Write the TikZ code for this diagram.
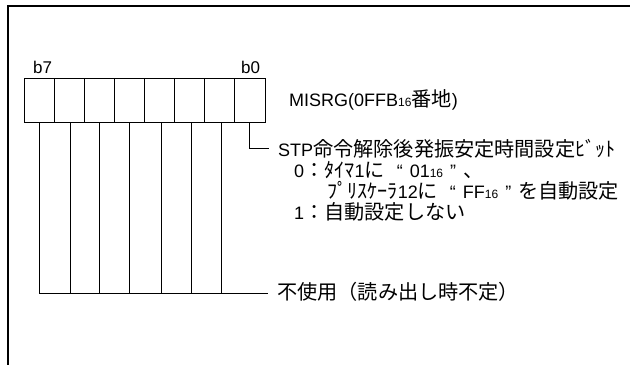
\documentclass[tikz,border=0pt]{standalone}
\usepackage{fontspec}
\setmainfont{Liberation Sans}
\newfontfamily\jp{Noto Sans CJK JP}[Scale=1.12]
\newcommand{\subn}[1]{{\fontsize{12}{12}\selectfont #1}}
\newcommand{\qopen}{\hspace{12pt}“\hspace{7pt}}
\newcommand{\qclose}{\hspace{7pt}”\hspace{7pt}}
\begin{document}
\begin{tikzpicture}[x=1pt,y=-1pt,
  frame/.style={line width=2pt},
  reg/.style={line width=0.9pt},
  cell/.style={draw, line width=0.9pt, minimum width=30.125pt, minimum height=44pt, inner sep=0pt, outer sep=0pt},
  lbl/.style={anchor=base west, inner sep=0pt, font=\fontsize{18}{21}\selectfont},
  bitlbl/.style={anchor=base west, inner sep=0pt, font=\fontsize{17}{20}\selectfont}]
\useasboundingbox (0,0) rectangle (630,365);
% frame
\coordinate (ftr) at (630,6);
\coordinate (ftl) at (8,6);
\coordinate (fbl) at (8,365);
\draw[frame] (ftr) -- (ftl) -- (fbl);
% register cells: c7 (left) ... c0 (right)
\foreach \i in {0,...,7}
  \node[cell] (c\i) at ({265-30.125*(\i+0.5)},100) {};
% bit labels
\node[bitlbl] (lb7) at (33,73) {b7};
\node[bitlbl] (lb0) at (241,73) {b0};
% register name
\node[lbl] (name) at (289,106.5) {MISRG(0FFB\subn{16}{\jp 番地})};
% b0 description
\node[lbl] (stp) at (278,156.5) {STP{\jp 命令解除後発振安定時間設定ﾋﾞｯﾄ}};
\node[lbl] (o0) at (294,177.5) {0{\jp ：ﾀｲﾏ}1{\jp に}\qopen 01\subn{16}\qclose{\jp 、}};
\node[lbl] (o0b) at (327,198.5) {{\jp ﾌﾟﾘｽｹｰﾗ}12{\jp に}\qopen FF\subn{16}\qclose{\jp を自動設定}};
\node[lbl] (o1) at (294,219.5) {1{\jp ：自動設定しない}};
\coordinate (b0k) at (c0.south |- 0,148);
\draw[reg] (c0.south) -- (b0k) -- ([xshift=-9pt]stp.west |- b0k);
% unused bits
\node[lbl] (unused) at (277,299.5) {{\jp 不使用（読み出し時不定）}};
\coordinate (ub) at (0,293);
\foreach \i/\dx in {1/2,2/2,3/2,4/0.5,5/0.3,6/1.5,7/0}
  \draw[reg] ([xshift=\dx pt]c\i.south) -- ([xshift=\dx pt]c\i.south |- ub);
\draw[reg] (c7.south |- ub) -- ([xshift=-9pt]unused.west |- ub);
\end{tikzpicture}
\end{document}
